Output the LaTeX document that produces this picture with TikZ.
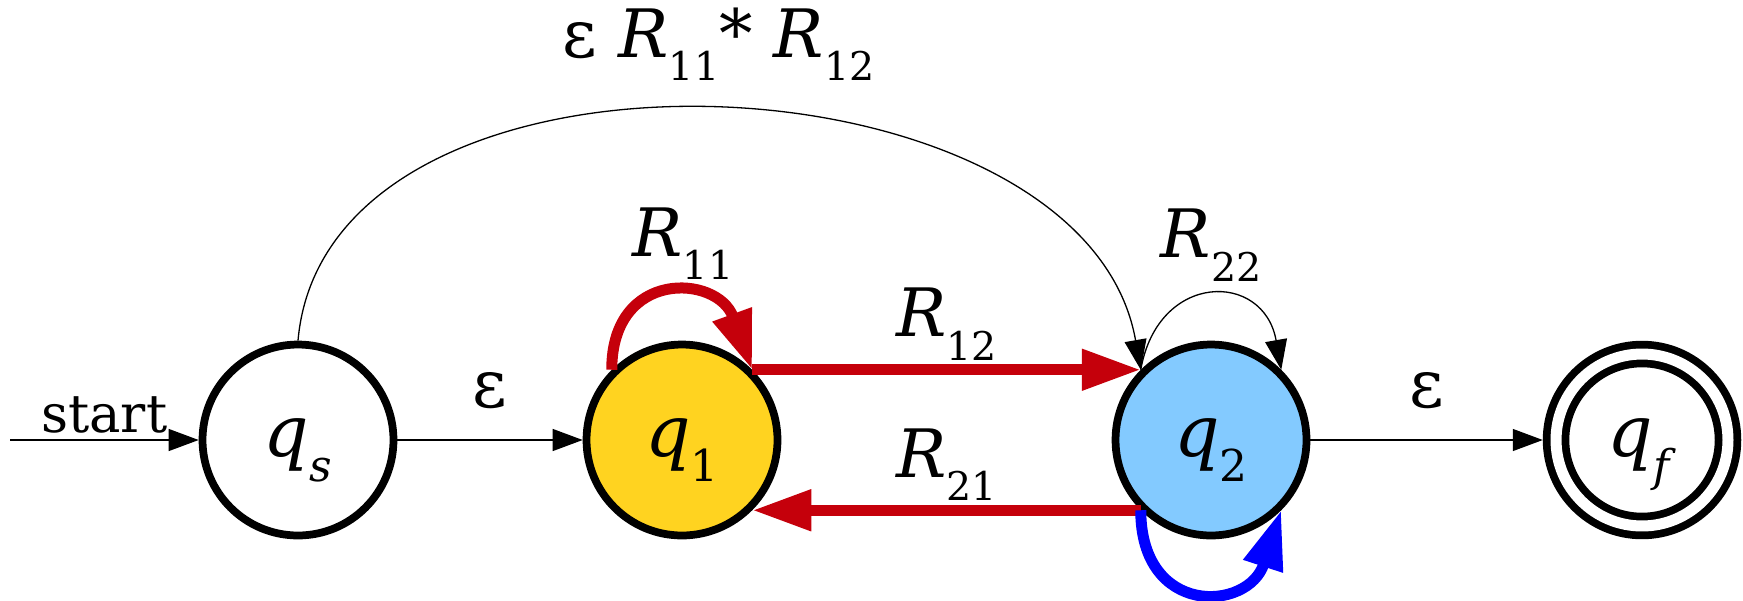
\documentclass[tikz,border=0pt]{standalone}
\usepackage{fontspec}
\setmainfont{DejaVu Serif}
\usetikzlibrary{arrows.meta}

\definecolor{qyellow}{HTML}{FFD320}
\definecolor{qblue}{HTML}{83CAFF}
\definecolor{edgered}{HTML}{C5000B}
\definecolor{loopblue}{HTML}{0000FF}

\newcommand{\lsub}[1]{\raisebox{-13.5pt}{\fontsize{22.5}{27}\selectfont #1}}
\newcommand{\rx}[1]{\textit{R}\lsub{#1}}
\newcommand{\qx}[1]{\textit{q}\raisebox{-14pt}{\fontsize{25}{30}\selectfont #1}}

\begin{document}
\begin{tikzpicture}[x=0.02cm, y=0.02cm, font=\fontsize{38}{46}\selectfont,
  st/.style={circle, draw, line width=0.155cm, minimum size=3.82cm, inner sep=0pt,
             font=\fontsize{40.5}{48}\selectfont, text height=0.8cm, text depth=0.14cm},
  acc/.style={st, double, double distance=0.22cm, minimum size=3.44cm, outer sep=0.265cm},
  thin/.style={line width=0.026cm, -{Triangle[length=0.6cm, width=0.44cm]}},
  thick/.style={line width=0.22cm, -{Triangle[length=1.18cm, width=0.78cm]}},
  lbl/.style={anchor=base, yshift=0.66cm, text=black},
  startlbl/.style={anchor=base, yshift=0.16cm, font=\fontsize{30}{36}\selectfont},
]
  \useasboundingbox (0,0) rectangle (1743,600);

  % states on one row, y = 160
  \node[st] (qs) at (298,160) {\qx{\textit{s}}};
  \node[st, fill=qyellow] (q1) at (682,160) {\qx{1}};
  \node[st, fill=qblue] (q2) at (1211,160) {\qx{2}};
  \node[acc] (qf) at (1642,160) {\qx{\textit{f}}};
  \coordinate (start) at (10,160);

  \draw[thin] (start) -- node[startlbl] {start} (qs);
  \draw[thin] (qs) -- node[lbl] {ε} (q1);
  \draw[thin] (q2) -- node[lbl] {ε} (qf);

  \draw[thick, edgered] (q1.north east) -- node[lbl] {\rx{12}} (q2.north west);
  \draw[thick, edgered] (q2.south west) -- node[lbl] {\rx{21}} (q1.south east);
  \draw[thick, edgered] (q1.north west) to[out=90, in=110, looseness=1.85]
       node[lbl, yshift=0.14cm, xshift=0.28cm] {\rx{11}} (q1.north east);
  \draw[thick, loopblue] (q2.south west) to[out=270, in=252, looseness=1.95] (q2.south east);
  \draw[thin] (q2.north west) to[out=80, in=100, looseness=1.83]
       node[lbl, yshift=0.1cm] {\rx{22}} (q2.north east);
  \draw[thin] (qs.north) to[out=85, in=100]
       node[lbl, yshift=0.4cm, xshift=0.2cm] {ε \rx{11}* \rx{12}} (q2.north west);
\end{tikzpicture}
\end{document}
